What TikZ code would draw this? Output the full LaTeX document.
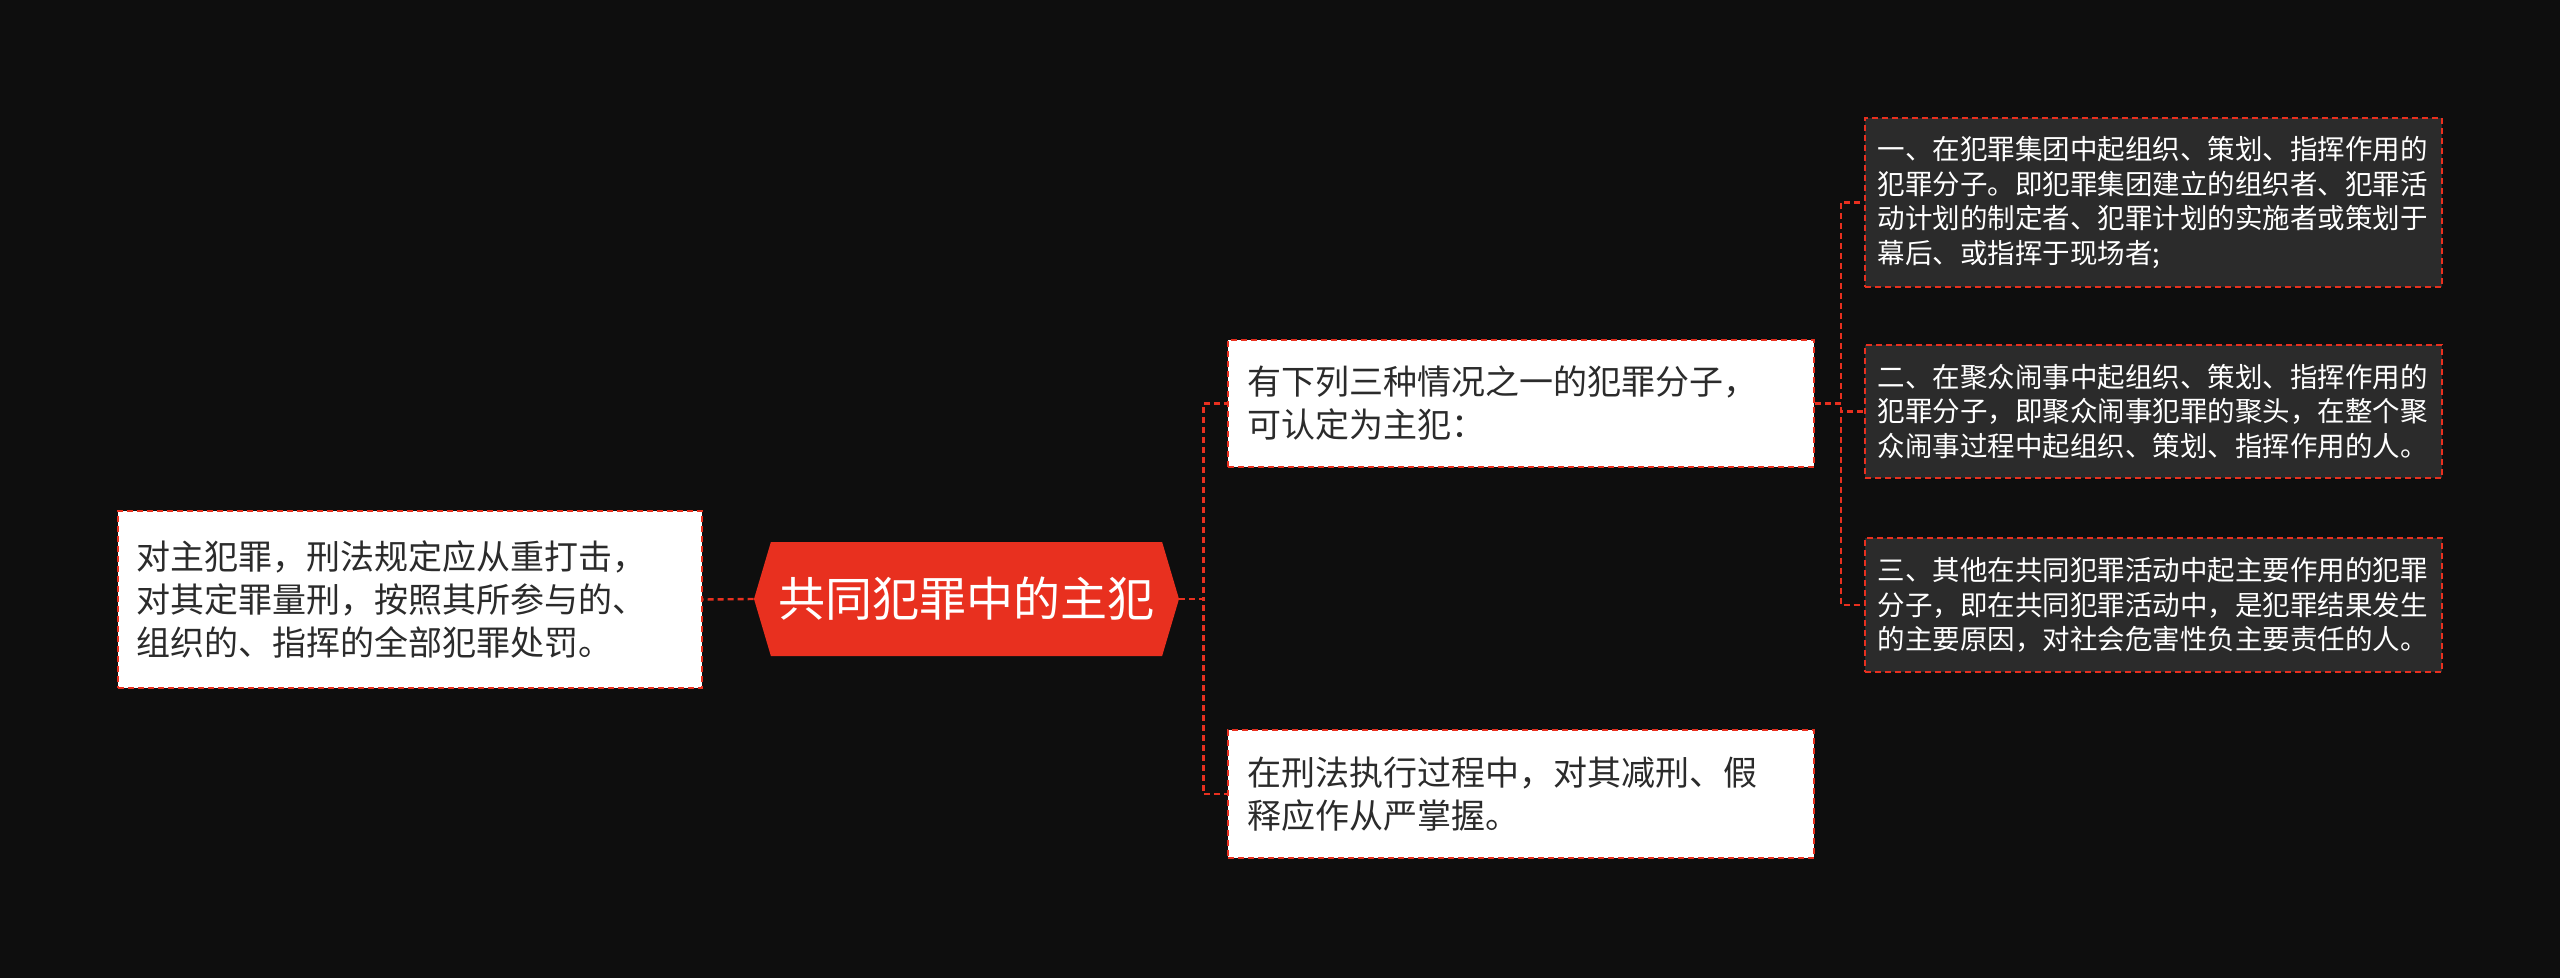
\documentclass[tikz,border=0pt]{standalone}
\usepackage{fontspec}
\setmainfont{Noto Sans CJK SC}
\usepackage{tikz}
\usetikzlibrary{shapes.symbols}
\definecolor{bgdark}{HTML}{0E0E0E}
\definecolor{mapred}{HTML}{E8301F}
\definecolor{leafgrey}{HTML}{2B2B2B}
\definecolor{inktext}{HTML}{2B2B2B}
\tikzstyle{topic} = [signal, signal to=east and west, signal pointer angle=147, fill=mapred, text=white, minimum width=212.5pt, minimum height=57pt, inner sep=0pt, font=\fontsize{23.5pt}{28pt}\selectfont]
\tikzstyle{branch} = [rectangle, fill=white, draw=mapred, line width=1.2pt, dash pattern=on 3pt off 2pt, text=inktext, align=left, inner ysep=0pt, font=\fontsize{17pt}{21.5pt}\selectfont]
\tikzstyle{leaf} = [rectangle, fill=leafgrey, draw=mapred, line width=1.2pt, dash pattern=on 3pt off 2pt, text=white, align=left, text width=276pt, inner xsep=6.25pt, inner ysep=0pt, minimum width=288.5pt, font=\fontsize{13.75pt}{17.25pt}\selectfont]
\tikzstyle{link} = [draw=mapred, line width=1.2pt, dash pattern=on 3pt off 2pt]

\begin{document}
\begin{tikzpicture}[x=0.5pt, y=-0.5pt]

	\fill [bgdark] (0,0) rectangle (2560,978);
	\useasboundingbox (0,0) rectangle (2560,978);

	\node (root) [topic] at (966.5,599) {共同犯罪中的主犯};
	\node (punish) [branch, text width=274pt, inner xsep=9pt, minimum height=88.5pt] at (410,599.5) {对主犯罪，刑法规定应从重打击，\\对其定罪量刑，按照其所参与的、\\组织的、指挥的全部犯罪处罚。};
	\node (crit) [branch, text width=274pt, inner xsep=9.5pt, minimum height=63.5pt] at (1521,403.5) {有下列三种情况之一的犯罪分子，\\可认定为主犯：};
	\node (exec) [branch, text width=274pt, inner xsep=9.5pt, minimum height=64pt] at (1521,794) {在刑法执行过程中，对其减刑、假\\释应作从严掌握。};
	\node (kind1) [leaf, minimum height=84.5pt] at (2153.5,202.5) {一、在犯罪集团中起组织、策划、指挥作用的\\犯罪分子。即犯罪集团建立的组织者、犯罪活\\动计划的制定者、犯罪计划的实施者或策划于\\幕后、或指挥于现场者;};
	\node (kind2) [leaf, minimum height=66.5pt] at (2153.5,411.5) {二、在聚众闹事中起组织、策划、指挥作用的\\犯罪分子，即聚众闹事犯罪的聚头，在整个聚\\众闹事过程中起组织、策划、指挥作用的人。};
	\node (kind3) [leaf, minimum height=67pt] at (2153.5,605) {三、其他在共同犯罪活动中起主要作用的犯罪\\分子，即在共同犯罪活动中，是犯罪结果发生\\的主要原因，对社会危害性负主要责任的人。};

	\draw [link] (root.west) -- (punish.east);
	\draw [link] (root.east) -- +(12pt,0) |- (crit.west);
	\draw [link] (root.east) -- +(12pt,0) |- (exec.west);
	\draw [link] (crit.east) -- +(13pt,0) |- (kind1.west);
	\draw [link] (crit.east) -- +(13pt,0) |- (kind2.west);
	\draw [link] (crit.east) -- +(13pt,0) |- (kind3.west);

\end{tikzpicture}
\end{document}
